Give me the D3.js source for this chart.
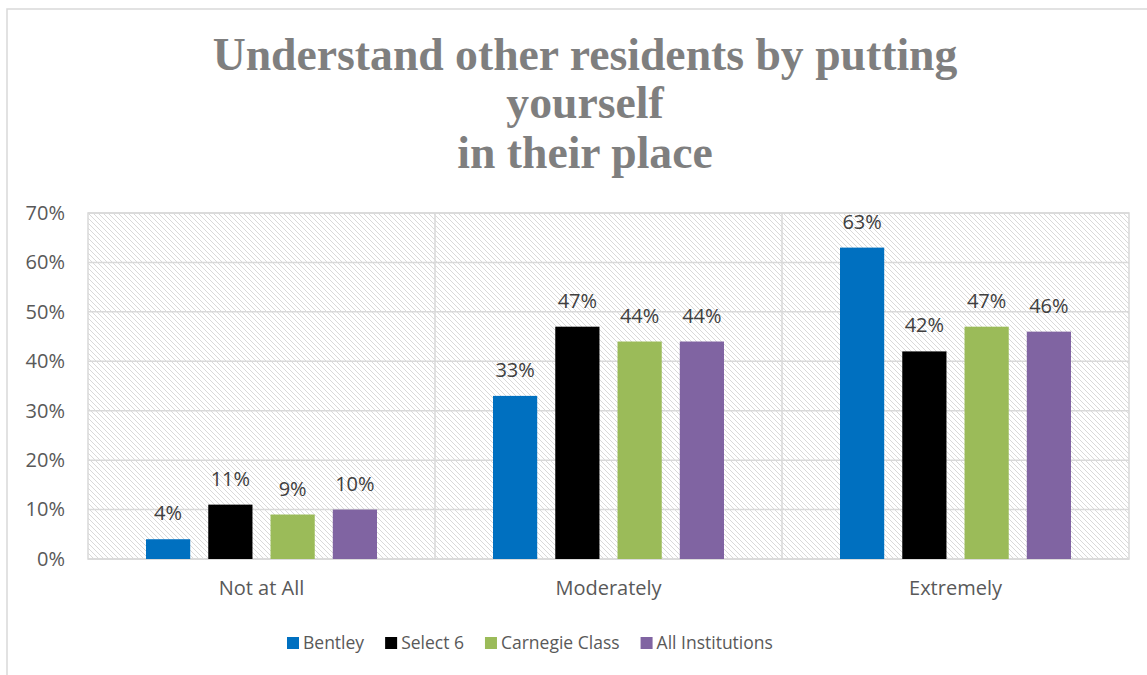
<!DOCTYPE html>
<html>
<head>
<meta charset="utf-8">
<script src="https://cdn.jsdelivr.net/npm/d3@7"></script>
<style>
  body { margin: 0; background: #fff; }
  svg { display: block; }
</style>
</head>
<body>
<svg id="chart" width="1147" height="675"></svg>
<script>
// data
const categories = ["Not at All", "Moderately", "Extremely"];
const seriesNames = ["Bentley", "Select 6", "Carnegie Class", "All Institutions"];
const bentley = [0.04, 0.33, 0.63];
const select6 = [0.11, 0.47, 0.42];
const carnegie = [0.09, 0.44, 0.47];
const allInst = [0.10, 0.44, 0.46];
const yTicks = [0, 0.1, 0.2, 0.3, 0.4, 0.5, 0.6, 0.7];
const titleLines = ["Understand other residents by putting", "yourself", "in their place"];

const colors = ["#0070c0", "#000000", "#9bbb59", "#8064a2"];
const seriesValues = [bentley, select6, carnegie, allInst];

const W = 1147, H = 675;
const plot = { left: 88, right: 1129, top: 213, bottom: 559 };
const labelFont = "'Open Sans', 'Noto Sans', sans-serif";
const labelSize = 20;

const svg = d3.select("#chart");

// outer chart border (only left/top visible)
svg.append("rect")
  .attr("x", 7).attr("y", 9)
  .attr("width", W + 20).attr("height", H + 20)
  .attr("fill", "#fff")
  .attr("stroke", "#d9d9d9").attr("stroke-width", 1.5);

// hatch pattern
const defs = svg.append("defs");
const pat = defs.append("pattern")
  .attr("id", "hatch")
  .attr("patternUnits", "userSpaceOnUse")
  .attr("width", 5).attr("height", 5);
pat.append("path")
  .attr("d", "M-1,-1 L6,6 M-1,4 L1,6 M4,-1 L6,1")
  .attr("stroke", "#d9d9d9").attr("stroke-width", 1);

const x0 = d3.scaleBand()
  .domain(categories)
  .range([plot.left, plot.right]);

const groupPad = 58;
const x1 = d3.scaleBand()
  .domain(seriesNames)
  .range([groupPad, x0.bandwidth() - groupPad])
  .paddingInner(0.29);

const y = d3.scaleLinear()
  .domain([0, 0.7])
  .range([plot.bottom, plot.top]);

// plot area background
svg.append("rect")
  .attr("x", plot.left).attr("y", plot.top)
  .attr("width", plot.right - plot.left)
  .attr("height", plot.bottom - plot.top)
  .attr("fill", "url(#hatch)");

// horizontal gridlines
svg.append("g")
  .selectAll("line")
  .data(yTicks)
  .join("line")
  .attr("x1", plot.left).attr("x2", plot.right)
  .attr("y1", d => y(d)).attr("y2", d => y(d))
  .attr("stroke", "#d9d9d9").attr("stroke-width", 1.5);

// vertical separators between categories
svg.append("g")
  .selectAll("line")
  .data(categories.slice(1))
  .join("line")
  .attr("x1", d => x0(d)).attr("x2", d => x0(d))
  .attr("y1", plot.top).attr("y2", plot.bottom)
  .attr("stroke", "#d9d9d9").attr("stroke-width", 1.5);

// plot border
svg.append("rect")
  .attr("x", plot.left).attr("y", plot.top)
  .attr("width", plot.right - plot.left)
  .attr("height", plot.bottom - plot.top)
  .attr("fill", "none")
  .attr("stroke", "#d9d9d9").attr("stroke-width", 1.5);

// y axis
const yAxis = svg.append("g")
  .attr("transform", `translate(${plot.left},0)`)
  .call(d3.axisLeft(y).tickValues(yTicks).tickFormat(d3.format(".0%")).tickSize(0).tickPadding(23));
yAxis.select(".domain").remove();
yAxis.selectAll("text")
  .attr("font-family", labelFont)
  .attr("font-size", labelSize)
  .attr("fill", "#595959");

// x axis
const xAxis = svg.append("g")
  .attr("transform", `translate(0,${plot.bottom})`)
  .call(d3.axisBottom(x0).tickSize(0).tickPadding(22));
xAxis.select(".domain").remove();
xAxis.selectAll("text")
  .attr("font-family", labelFont)
  .attr("font-size", labelSize)
  .attr("fill", "#595959");

// bars
const rows = categories.map((c, i) => ({
  cat: c,
  vals: seriesNames.map((s, j) => ({ name: s, v: seriesValues[j][i], color: colors[j] }))
}));

const groups = svg.append("g")
  .selectAll("g")
  .data(rows)
  .join("g")
  .attr("transform", d => `translate(${x0(d.cat)},0)`);

groups.selectAll("rect")
  .data(d => d.vals)
  .join("rect")
  .attr("x", d => x1(d.name))
  .attr("width", x1.bandwidth())
  .attr("y", d => y(d.v))
  .attr("height", d => y(0) - y(d.v))
  .attr("fill", d => d.color);

groups.selectAll("text")
  .data(d => d.vals)
  .join("text")
  .attr("x", d => x1(d.name) + x1.bandwidth() / 2)
  .attr("y", d => y(d.v) - 19)
  .attr("text-anchor", "middle")
  .attr("font-family", labelFont)
  .attr("font-size", labelSize)
  .attr("fill", "#404040")
  .text(d => d3.format(".0%")(d.v));

// title
const title = svg.append("text")
  .attr("text-anchor", "middle")
  .attr("font-family", "'Liberation Serif', 'DejaVu Serif', serif")
  .attr("font-weight", "bold")
  .attr("font-size", 40)
  .attr("fill", "#7f7f7f");
title.selectAll("tspan")
  .data(titleLines)
  .join("tspan")
  .attr("x", 585)
  .attr("y", (d, i) => [70, 118, 168][i])
  .text(d => d);

// fit first line width to reference (~745px)
const firstLen = title.select("tspan").node().getComputedTextLength();
title.attr("font-size", 40 * 745 / firstLen);

// legend
const legend = svg.append("g").attr("transform", "translate(287,643)");
let lx = 0;
seriesNames.forEach((s, i) => {
  const item = legend.append("g").attr("transform", `translate(${lx},0)`);
  item.append("rect")
    .attr("x", 0).attr("y", -6)
    .attr("width", 12).attr("height", 12)
    .attr("fill", colors[i]);
  const t = item.append("text")
    .attr("x", 16).attr("y", 0)
    .attr("dy", "0.35em")
    .attr("font-family", labelFont)
    .attr("font-size", 17.5)
    .attr("fill", "#595959")
    .text(s);
  lx += 16 + t.node().getComputedTextLength() + 21;
});
</script>
</body>
</html>
